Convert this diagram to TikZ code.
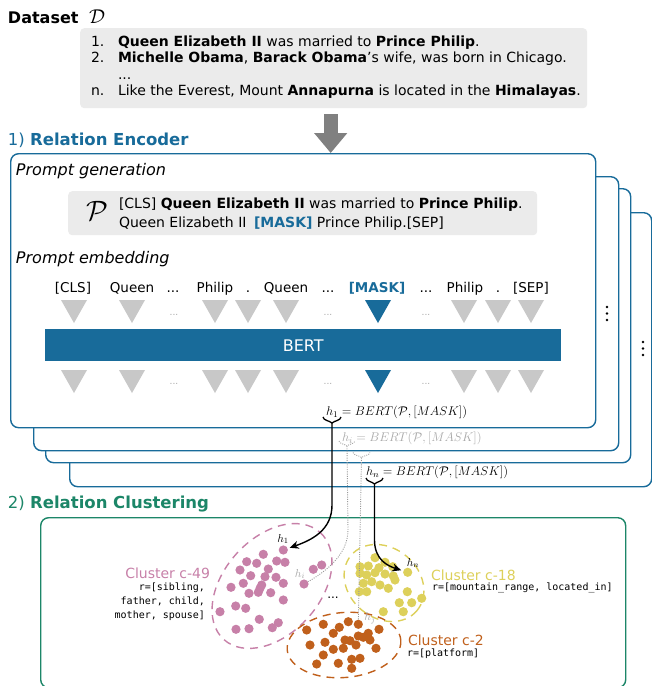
\documentclass[tikz,border=0pt]{standalone}
\usepackage{fix-cm}
\usepackage[no-math]{fontspec}
\setmainfont{DejaVu Sans}
\setmonofont{DejaVu Sans Mono}
\usetikzlibrary{arrows.meta}
\definecolor{encblue}{RGB}{24,107,154}
\definecolor{clgreen}{RGB}{28,134,104}
\definecolor{boxgray}{RGB}{235,235,235}
\definecolor{trigray}{RGB}{200,200,200}
\definecolor{arrgray}{RGB}{128,128,128}
\definecolor{cpink}{RGB}{199,128,168}
\definecolor{cyellow}{RGB}{221,208,90}
\definecolor{corange}{RGB}{192,96,28}
\definecolor{hgray}{RGB}{168,168,168}
\newcommand{\fsz}[1]{\fontsize{#1}{#1}\selectfont}
\newcommand{\tdd}{...}
\begin{document}
\begin{tikzpicture}[x=1pt,y=-1pt,
  txt/.style={inner sep=0pt, outer sep=0pt},
  body/.style={txt, font=\fsz{14}},
  panel/.style={draw=encblue, line width=1.4pt, fill=white, rounded corners=8pt, minimum height=274pt, anchor=north west, inner sep=0pt},
  graybox/.style={fill=boxgray, rounded corners=4pt, anchor=north west, inner sep=0pt},
  tok/.style={txt, anchor=base, font=\fsz{13.5}},
  tdots/.style={txt, font=\fsz{9}, text=hgray},
  hlab/.style={txt, anchor=west, font=\fsz{12.6}},
  solidbrace/.style={line width=1.3pt, black},
  dotbrace/.style={line width=0.9pt, hgray, dash pattern=on 1pt off 1.2pt},
  conn/.style={line width=1.4pt, -{Stealth[length=9pt,width=8pt]}, shorten >=2pt},
  dotconn/.style={line width=0.9pt, draw=gray!80, dash pattern=on 1pt off 1.3pt},
  pdot/.style={circle, fill=cpink, inner sep=0pt, minimum size=9.2pt},
  ydot/.style={circle, fill=cyellow, inner sep=0pt, minimum size=9.2pt},
  odot/.style={circle, fill=corange, inner sep=0pt, minimum size=9.2pt},
  cline/.style={line width=1.4pt, dash pattern=on 8pt off 6pt},
  clab/.style={txt, font=\fsz{14}},
  rlab/.style={txt, font=\ttfamily\fsz{10}},
]
\useasboundingbox (0,0) rectangle (652,686);

% ---------- Dataset ----------
\node[txt, anchor=base west, font=\bfseries\fsz{16}] (dtitle) at (8,23) {Dataset};
\node[txt, anchor=base west, font=\fsz{20}] (dsym) at (89,23) {$\mathcal{D}$};
\node[graybox, minimum width=507pt, minimum height=80pt] (dbox) at (80,28) {};
\node[body, anchor=base west] (n1) at (91,46) {1.};
\node[body, anchor=base west] (s1) at (118,46) {\textbf{Queen Elizabeth II} was married to \textbf{Prince Philip}.};
\node[body, anchor=base west] (n2) at (91,62.5) {2.};
\node[body, anchor=base west] (s2) at (118,62.5) {\textbf{Michelle Obama}, \textbf{Barack Obama}'s wife, was born in Chicago.};
\node[body, anchor=base west] (s3) at (118,79) {\tdd};
\node[body, anchor=base west] (n4) at (91,95.5) {n.};
\node[body, anchor=base west] (s4) at (118,95.5) {Like the Everest, Mount \textbf{Annapurna} is located in the \textbf{Himalayas}.};

% ---------- Relation encoder ----------
\node[txt, anchor=base west, font=\fsz{16.5}, text=encblue] (enc) at (8,145) {1) \textbf{Relation Encoder}};

\node[panel, minimum width=582pt] (p4) at (69,212) {};
\node[panel, minimum width=585pt] (p3) at (45,188) {};
\node[panel, minimum width=585pt] (p2) at (33,176) {};
\node[panel, minimum width=585pt] (p1) at (10,153) {};

\draw[arrgray, line width=14pt, -{Triangle[width=32pt,length=20pt]}, shorten <=6pt]
  ([xshift=-3pt]dbox.south) -- ([xshift=-3pt]dbox.south |- p1.north);

\foreach \yy in {307,313.5,320} \fill (607,\yy) circle[radius=1.3pt];
\foreach \yy in {342,348.5,355} \fill (643,\yy) circle[radius=1.3pt];

\node[txt, anchor=base west, font=\itshape\fsz{16}] (pg) at (16,175) {Prompt generation};
\node[graybox, minimum width=469pt, minimum height=44pt] (pbox) at (68,191) {};
\node[txt, font=\fsz{28}] (psym) at (97,211) {$\mathcal{P}$};
\node[body, anchor=base west] (pl1) at (119,208) {[CLS] \textbf{Queen Elizabeth II} was married to \textbf{Prince Philip}.};
\node[body, anchor=base west] (pl2) at (119,227) {Queen Elizabeth II\hspace{3pt} \textcolor{encblue}{\textbf{[MASK]}} Prince Philip.[SEP]};

\node[txt, anchor=base west, font=\itshape\fsz{16}] (pe) at (16,263) {Prompt embedding};

\foreach \x/\tk [count=\i] in {73/{[CLS]}, 132/{Queen}, 173/{\tdd}, 215/{Philip}, 248/{.}, 286/{Queen}, 328/{\tdd}, 426/{\tdd}, 465/{Philip}, 498/{.}, 531/{[SEP]}}
  \node[tok] (tk\i) at (\x,292) {\tk};
\node[tok, text=encblue, font=\bfseries\fsz{13.5}] (tkm) at (377,292) {[MASK]};

\foreach \x in {74,132,215,248,286,464,498,531} {
  \fill[trigray] (\x-13,300) -- (\x+13,300) -- (\x,323) -- cycle;
  \fill[trigray] (\x-13,370) -- (\x+13,370) -- (\x,393) -- cycle;
}
\fill[encblue] (365,300) -- (391,300) -- (378,323) -- cycle;
\fill[encblue] (365,370) -- (391,370) -- (378,393) -- cycle;
\foreach \x in {174,328,426} {
  \node[tdots] (tda\x) at (\x,315) {\tdd};
  \node[tdots] (tdb\x) at (\x,384) {\tdd};
}

\node[fill=encblue, minimum width=516pt, minimum height=32pt, inner sep=0pt, text=white, font=\fsz{16}, anchor=north west] (bert) at (45,329) {BERT};

\node[hlab] (h1lab) at (326,412) {$h_1 = BERT(\mathcal{P}, [MASK])$};
\node[hlab, text=hgray] (hilab) at (342,438) {$h_i = BERT(\mathcal{P}, [MASK])$};
\node[hlab] (hnlab) at (366,472) {$h_n = BERT(\mathcal{P}, [MASK])$};

\draw[solidbrace] (323,417) .. controls (323.5,420.5) and (329,420.5) .. (332,423) .. controls (335,420.5) and (340.5,420.5) .. (341,417);
\coordinate (b1) at (332,423);
\draw[dotbrace] (339,441) .. controls (339.5,444) and (345,444) .. (347,446) .. controls (349,444) and (354.5,444) .. (355,441);
\coordinate (bi) at (347,446);
\draw[dotbrace] (353,452.5) .. controls (353.5,455.5) and (359.5,455.5) .. (361.5,457.5) .. controls (363.5,455.5) and (369.5,455.5) .. (370,452.5);
\coordinate (bj) at (361.5,457.5);
\draw[solidbrace] (366,478) .. controls (366.5,481.5) and (372,481.5) .. (374.5,484) .. controls (377,481.5) and (382.5,481.5) .. (383,478);
\coordinate (bn) at (374.5,484);

% ---------- Relation clustering ----------
\node[txt, anchor=base west, font=\fsz{16.5}, text=clgreen] (clu) at (8,508) {2) \textbf{Relation Clustering}};
\node[draw=clgreen, line width=1.4pt, rounded corners=8pt, minimum width=585pt, minimum height=170pt, anchor=north west, inner sep=0pt] (gp) at (40,517) {};

\draw[cpink, cline, rotate around={48:(272,586)}] (272,586) ellipse [x radius=72, y radius=48];
\draw[cyellow, cline, rotate around={-40:(384,583)}] (384,583) ellipse [x radius=43, y radius=35];
\draw[corange, cline, rotate around={5:(344,645)}] (344,645) ellipse [x radius=57, y radius=32.5];

\foreach \x/\y [count=\i] in {263.3/554.3, 246.7/561.7, 256.7/563.3, 276.7/561, 285/562.3, 240/570, 268.3/569, 250.7/575.7, 265/576.7, 276/577.3, 243.3/583.3, 261.7/585, 283.3/583.3, 231/587.3, 260/588.3, 249/593.3, 258.3/592.3, 270.7/592.7, 283.3/600, 235.7/606, 245.7/608.3, 220/611.7, 259.3/619.3, 278.3/622.7, 236/629.3, 249/628.7, 272.3/627.7, 313.3/569.3, 321.7/565}
  \node[pdot] (pk\i) at (\x,\y) {};
\node[pdot] (dh1) at (283.3,550) {};
\node[pdot] (dhi) at (304,584) {};

\foreach \x/\y [count=\i] in {375/557.7, 385/562.3, 360/566.7, 368.3/566, 379/567.7, 392.7/566.7, 360/573.3, 366.7/575, 375/572.7, 385/574, 393.3/576, 395/580, 363.3/583.3, 371.7/581.7, 380/585, 388.3/588.3, 359.3/591.7, 366.7/591.7, 407.3/591.7, 399.3/602.7, 411.7/602.7, 421.7/598.3, 383.3/611.7, 403.3/611.7}
  \node[ydot] (yl\i) at (\x,\y) {};
\node[ydot] (dhn) at (407.7,572.3) {};

\foreach \x/\y [count=\i] in {323.3/624.3, 348.3/621.7, 379/629.3, 306.7/630, 339.3/627.3, 333.3/633.3, 325/642.3, 345/640, 350/640.7, 358.3/636, 363.3/637.3, 368.3/633.3, 310/645, 356/645, 370/640, 376/648.3, 333.3/649.3, 343.3/648.3, 323.3/655, 351.7/659.3, 360/658.3, 316.7/664, 338.3/663.3, 351.7/668.3}
  \node[odot] (or\i) at (\x,\y) {};
\node[odot] (dhj) at (358.3,624.3) {};

\node[txt, font=\fsz{11.5}] (h1c) at (283,539) {$h_1$};
\node[txt, font=\fsz{11.5}, text=hgray] (hic) at (300,574) {$h_i$};
\node[txt, font=\fsz{11.5}] (hnc) at (413,563) {$h_n$};
\node[txt, font=\fsz{11.5}, text=hgray] (hjc) at (370,618) {$h_j$};
\node[txt, font=\fsz{12}] (cdots) at (333,598) {\tdd};

\node[clab, anchor=base east, text=cpink] (c49) at (210,578) {Cluster c-49};
\node[rlab, anchor=base east] (r49a) at (205,590.6) {r=[sibling,};
\node[rlab, anchor=base east] (r49b) at (205,604.3) {father, child,};
\node[rlab, anchor=base east] (r49c) at (205,618) {mother, spouse]};
\node[clab, anchor=base west, text=cyellow] (c18) at (431,580) {Cluster c-18};
\node[rlab, anchor=base west] (r18) at (432,590.6) {r=[mountain\_range, located\_in]};
\node[clab, anchor=base west, text=corange] (c2) at (408,645) {Cluster c-2};
\node[rlab, anchor=base west] (r2) at (407,656.6) {r=[platform]};

\draw[conn] (b1) -- (332,505) .. controls (332,530) and (312,540) .. (dh1);
\draw[conn] (bn) -- (374.5,540) .. controls (374.5,560) and (388,566) .. (dhn);
\draw[dotconn] (bi) -- (348,530) .. controls (348,555) and (325,572) .. (dhi);
\draw[dotconn] (bj) -- (dhj);
\end{tikzpicture}
\end{document}
